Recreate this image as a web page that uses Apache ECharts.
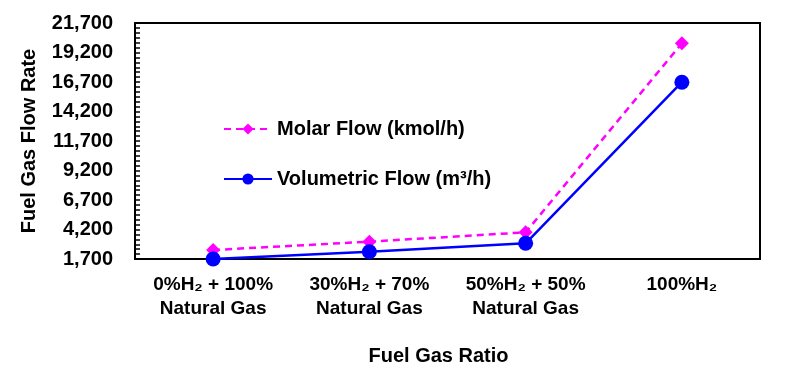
<!DOCTYPE html>
<html>
<head>
<meta charset="utf-8">
<script src="https://cdn.jsdelivr.net/npm/echarts@6/dist/echarts.min.js"></script>
<style>
  html, body { margin: 0; padding: 0; background: #fff; }
  #chart { width: 812px; height: 371px; }
</style>
</head>
<body>
<div id="chart"></div>
<script>
const categories = ['0%H₂ + 100%\nNatural Gas', '30%H₂ + 70%\nNatural Gas', '50%H₂ + 50%\nNatural Gas', '100%H₂']
const molarFlow = [2460, 3170, 3960, 19980]
const volumetricFlow = [1700, 2320, 3030, 16680]
const yTickLabels = [1700, 4200, 6700, 9200, 11700, 14200, 16700, 19200, 21700]

// minor ticks: 6 per major step
const yMinorTicks = []
for (let i = 0; i < yTickLabels.length - 1; i++) {
  for (let k = 0; k < 6; k++) yMinorTicks.push(yTickLabels[i] + k * (yTickLabels[i + 1] - yTickLabels[i]) / 6)
}
yMinorTicks.push(yTickLabels[yTickLabels.length - 1])

const FONT = 'Liberation Sans, Arial, sans-serif'
const chart = echarts.init(document.getElementById('chart'), null, { renderer: 'canvas' })

chart.setOption({
  backgroundColor: '#fff',
  animation: false,
  grid: {
    left: 135, right: 52, top: 23, bottom: 112,
    show: true, borderColor: '#000', borderWidth: 2,
  },
  legend: {
    orient: 'vertical',
    left: 218, top: 114,
    itemGap: 30,
    itemWidth: 48, itemHeight: 14,
    textStyle: { color: '#000', fontSize: 20, fontWeight: 'bold', fontFamily: FONT },
    data: ['Molar Flow (kmol/h)', 'Volumetric Flow (m³/h)'],
  },
  xAxis: [
    {
      type: 'category',
      data: categories,
      boundaryGap: true,
      name: 'Fuel Gas Ratio',
      nameLocation: 'middle',
      nameGap: 87,
      nameTextStyle: { color: '#000', fontSize: 20, fontWeight: 'bold', fontFamily: FONT, verticalAlign: 'top', padding: [0, 18, 0, 0] },
      axisLine: { lineStyle: { color: '#000', width: 2 } },
      axisTick: { inside: true, length: 5, lineStyle: { color: '#000', width: 2 } },
      axisLabel: { color: '#000', fontSize: 19, fontWeight: 'bold', fontFamily: FONT, lineHeight: 24, margin: 14 },
      splitLine: { show: false },
    },
    {
      type: 'category',
      data: categories,
      position: 'bottom',
      axisLine: { show: false },
      axisTick: { inside: true, alignWithLabel: true, length: 5, lineStyle: { color: '#000', width: 2 } },
      axisLabel: { show: false },
      splitLine: { show: false },
    },
  ],
  yAxis: {
    type: 'value',
    min: 1700,
    max: 21700,
    name: 'Fuel Gas Flow Rate',
    nameLocation: 'middle',
    nameGap: 96,
    nameTextStyle: { color: '#000', fontSize: 20, fontWeight: 'bold', fontFamily: FONT },
    axisLine: { show: true, lineStyle: { color: '#000', width: 2 } },
    axisTick: { show: true, inside: true, length: 5, customValues: yMinorTicks, lineStyle: { color: '#000', width: 1.5 } },
    axisLabel: {
      color: '#000', fontSize: 20, fontWeight: 'bold', fontFamily: FONT, margin: 22,
      customValues: yTickLabels,
      formatter: v => Math.round(v).toLocaleString('en-US'),
    },
    splitLine: { show: false },
  },
  series: [
    {
      name: 'Molar Flow (kmol/h)',
      type: 'line',
      data: molarFlow,
      symbol: 'diamond',
      symbolSize: 14,
      itemStyle: { color: '#ff00ff' },
      lineStyle: { color: '#ff00ff', width: 2.5, type: [7, 5] },
    },
    {
      name: 'Volumetric Flow (m³/h)',
      type: 'line',
      data: volumetricFlow,
      symbol: 'circle',
      symbolSize: 15,
      itemStyle: { color: '#0000ff' },
      lineStyle: { color: '#0000ff', width: 2.5 },
    },
  ],
})
</script>
</body>
</html>
